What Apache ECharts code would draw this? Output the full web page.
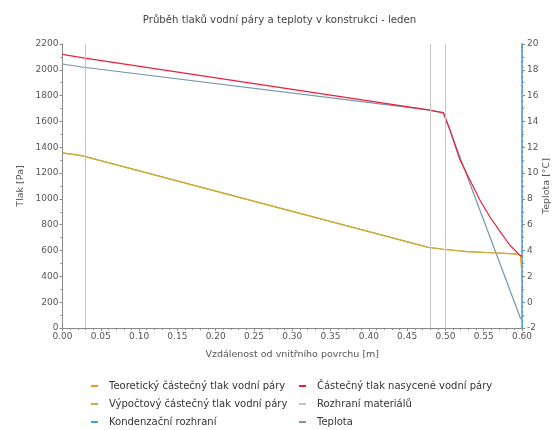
<!DOCTYPE html>
<html>
<head>
<meta charset="utf-8">
<script src="https://cdn.jsdelivr.net/npm/echarts@6/dist/echarts.min.js"></script>
<style>
  html, body { margin: 0; padding: 0; background: #fff; }
  #chart { width: 559px; height: 430px; }
</style>
</head>
<body>
<div id="chart"></div>
<script>
// Pressure profiles [distance m, pressure Pa]
const theoreticalPressure = [
  [0, 1356], [0.025, 1335], [0.4777, 625], [0.4973, 610], [0.528, 591],
  [0.567, 581], [0.584, 576], [0.595, 572], [0.598, 560], [0.6, 415]
];
const calculatedPressure = [
  [0, 1356], [0.025, 1335], [0.4777, 625], [0.4973, 610], [0.528, 591],
  [0.567, 581], [0.584, 576], [0.595, 572], [0.598, 558]
];
const saturationPressure = [
  [0, 2120], [0.025, 2094], [0.4777, 1690], [0.4973, 1667], [0.506, 1534],
  [0.519, 1301], [0.532, 1146], [0.545, 992], [0.558, 862], [0.571, 750],
  [0.584, 643], [0.597, 565], [0.6, 556]
];
// Temperature profile [distance m, °C]
const temperature = [
  [0, 18.45], [0.025, 18.22], [0.4777, 14.89], [0.4973, 14.68], [0.598, -1.25], [0.6, -1.35]
];
// Material interfaces and condensation plane positions [m]
const materialInterfaces = [0.025, 0.4777, 0.4973];
const condensationPlanes = [0.598];

const FONT = 'DejaVu Sans';
const AXIS_COLOR = '#8a8a8a';
const LABEL_COLOR = '#555';

const chart = echarts.init(document.getElementById('chart'), null, { renderer: 'canvas' });

const legendText = { fontFamily: FONT, fontSize: 10, color: '#333', lineHeight: 12, padding: [0, 0, 0, 6] };
const legendBase = {
  orient: 'vertical', top: 380, itemGap: 6, padding: 0,
  icon: 'rect', itemWidth: 7, itemHeight: 2, height: 50,
  textStyle: legendText
};

chart.setOption({
  animation: false,
  backgroundColor: '#fff',
  title: {
    text: 'Průběh tlaků vodní páry a teploty v konstrukci - leden',
    left: 'center',
    top: 10,
    textStyle: { fontFamily: FONT, fontSize: 10.2, fontWeight: 'normal', color: '#444' }
  },
  legend: [
    Object.assign({}, legendBase, {
      left: 91,
      data: ['Teoretický částečný tlak vodní páry', 'Výpočtový částečný tlak vodní páry', 'Kondenzační rozhraní']
    }),
    Object.assign({}, legendBase, {
      left: 299,
      data: ['Částečný tlak nasycené vodní páry', 'Rozhraní materiálů', 'Teplota']
    })
  ],
  grid: { left: 62.5, right: 37, top: 44, bottom: 102, containLabel: false, outerBoundsMode: 'none' },
  xAxis: {
    type: 'value', min: 0, max: 0.6, interval: 0.05,
    name: 'Vzdálenost od vnitřního povrchu [m]',
    nameLocation: 'middle', nameGap: 22, nameMoveOverlap: false,
    nameTextStyle: { fontFamily: FONT, fontSize: 9.5, color: LABEL_COLOR },
    axisLine: { lineStyle: { color: AXIS_COLOR } },
    axisTick: { length: 3, lineStyle: { color: AXIS_COLOR } },
    minorTick: { show: true, splitNumber: 5, length: 2, lineStyle: { color: AXIS_COLOR } },
    axisLabel: { fontFamily: FONT, fontSize: 9, color: LABEL_COLOR, margin: 4,
      formatter: v => v.toFixed(2) },
    splitLine: { show: false }
  },
  yAxis: [
    {
      type: 'value', min: 0, max: 2200, interval: 200, position: 'left',
      name: 'Tlak [Pa]', nameLocation: 'middle', nameGap: 37, nameRotate: 90, nameMoveOverlap: false,
      nameTextStyle: { fontFamily: FONT, fontSize: 9.5, color: LABEL_COLOR },
      axisLine: { show: true, lineStyle: { color: AXIS_COLOR } },
      axisTick: { show: true, length: 3, lineStyle: { color: AXIS_COLOR } },
      minorTick: { show: true, splitNumber: 2, length: 2, lineStyle: { color: AXIS_COLOR } },
      axisLabel: { fontFamily: FONT, fontSize: 9, color: LABEL_COLOR, margin: 4,
        formatter: v => String(v) },
      splitLine: { show: false }
    },
    {
      type: 'value', min: -2, max: 20, interval: 2, position: 'right',
      name: 'Teplota [°C]', nameLocation: 'middle', nameGap: 20, nameRotate: 90, nameMoveOverlap: false,
      nameTextStyle: { fontFamily: FONT, fontSize: 9.5, color: LABEL_COLOR },
      axisLine: { show: true, lineStyle: { color: '#aaa', width: 2 } },
      axisTick: { show: true, length: 3, lineStyle: { color: AXIS_COLOR } },
      minorTick: { show: true, splitNumber: 2, length: 2, lineStyle: { color: AXIS_COLOR } },
      axisLabel: { fontFamily: FONT, fontSize: 9, color: LABEL_COLOR, margin: 5,
        formatter: v => String(v) },
      splitLine: { show: false }
    }
  ],
  series: [
    {
      name: 'Rozhraní materiálů', type: 'line', data: [],
      color: '#c4c4c4', symbol: 'none',
      markLine: {
        silent: true, symbol: 'none', label: { show: false },
        lineStyle: { color: '#c4c4c4', type: 'solid', width: 1 },
        data: materialInterfaces.map(x => ({ xAxis: x }))
      }
    },
    {
      name: 'Kondenzační rozhraní', type: 'line', data: [],
      color: '#3a9ef5', symbol: 'none',
      markLine: {
        silent: true, symbol: 'none', label: { show: false },
        lineStyle: { color: '#3a9ef5', type: [3, 2], width: 1 },
        data: condensationPlanes.map(x => ({ xAxis: x }))
      }
    },
    {
      name: 'Teplota', type: 'line', yAxisIndex: 1, data: temperature,
      color: '#7595b0', symbol: 'none', lineStyle: { width: 1.2 }
    },
    {
      name: 'Teoretický částečný tlak vodní páry', type: 'line', data: theoreticalPressure,
      color: '#f7931e', symbol: 'none', lineStyle: { width: 1.2 }
    },
    {
      name: 'Výpočtový částečný tlak vodní páry', type: 'line', data: calculatedPressure,
      color: '#bdb33e', symbol: 'none', lineStyle: { width: 1.2 }
    },
    {
      name: 'Částečný tlak nasycené vodní páry', type: 'line', data: saturationPressure,
      color: '#e8203a', symbol: 'none', lineStyle: { width: 1.2 }
    }
  ]
});
</script>
</body>
</html>
